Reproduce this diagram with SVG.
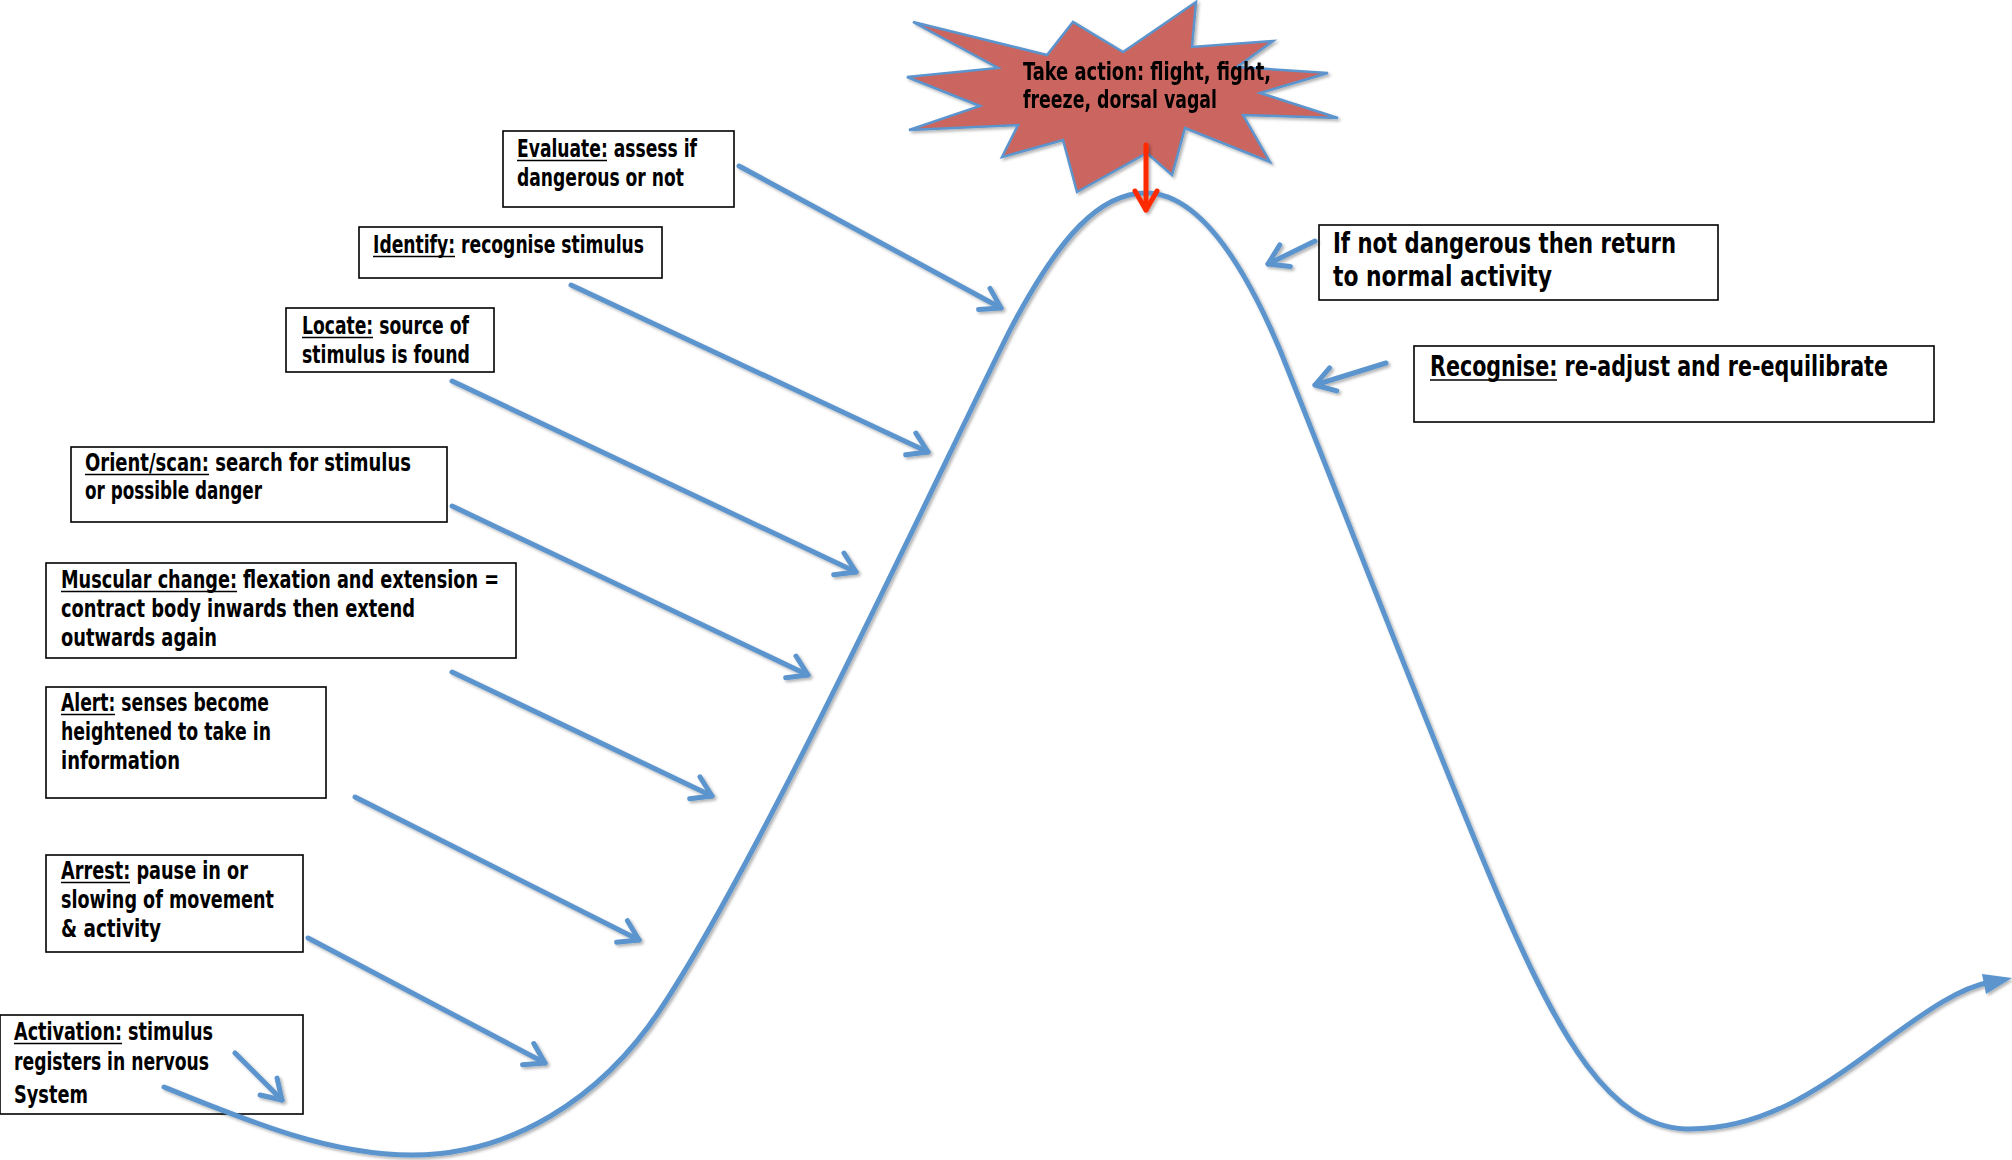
<svg xmlns="http://www.w3.org/2000/svg" width="2012" height="1160" viewBox="0 0 2012 1160">
<style>
.box{fill:#fff;stroke:#000;stroke-width:1.6}
.t{font-family:"Liberation Sans Narrow","DejaVu Sans Condensed","Liberation Sans",sans-serif;font-weight:bold;font-size:24px;fill:#000}
.tl{font-size:29px}
.ul{stroke:#000;stroke-width:1.6}
.conn{fill:none;stroke:#5B94CD;stroke-width:5;stroke-linecap:round}
</style>
<defs>
<filter id="sh" x="-10%" y="-10%" width="130%" height="130%">
<feDropShadow dx="2" dy="2" stdDeviation="1.5" flood-color="#000" flood-opacity="0.3"/>
</filter>
<marker id="ah" viewBox="-24 -16 30 32" refX="0" refY="0" markerWidth="30" markerHeight="32" markerUnits="userSpaceOnUse" orient="auto" overflow="visible">
<path d="M-19,-12 L0,0 L-19,12" fill="none" stroke="#5B94CD" stroke-width="5" stroke-linecap="round" stroke-linejoin="round"/>
</marker>
<marker id="ahr" viewBox="-24 -16 30 32" refX="0" refY="0" markerWidth="30" markerHeight="32" markerUnits="userSpaceOnUse" orient="auto" overflow="visible">
<path d="M-19,-11 L0,0 L-19,11" fill="none" stroke="#FF2A00" stroke-width="5" stroke-linecap="round" stroke-linejoin="round"/>
</marker>
</defs>
<rect width="2012" height="1160" fill="#fff"/>

<g id="action" filter="url(#sh)">
<polygon points="913,22 1047,55 1073,22 1123,52 1196,2 1192,47 1273,41 1237,67 1328,73 1260,93 1338,118 1243,115 1270,162 1185,128 1172,175 1147,153 1077,192 1063,140 1002,157 1018,125 909,130 980,106 907,77 998,68" fill="#CB655E" stroke="#5B94CD" stroke-width="2.5" stroke-linejoin="miter"/>
<text class="t" x="1023" y="80" textLength="248" lengthAdjust="spacingAndGlyphs">Take action: flight, fight,</text>
<text class="t" x="1023" y="108" textLength="194" lengthAdjust="spacingAndGlyphs">freeze, dorsal vagal</text>
</g>

<g id="evaluate">
<rect class="box" x="503" y="131" width="231" height="76"/>
<text class="t" x="517" y="157" textLength="180" lengthAdjust="spacingAndGlyphs">Evaluate: assess if</text>
<line class="ul" x1="517" y1="160.5" x2="607" y2="160.5"/>
<text class="t" x="517" y="186" textLength="167" lengthAdjust="spacingAndGlyphs">dangerous or not</text>
</g>

<g id="identify">
<rect class="box" x="359" y="227" width="303" height="51"/>
<text class="t" x="373" y="253" textLength="271" lengthAdjust="spacingAndGlyphs">Identify: recognise stimulus</text>
<line class="ul" x1="373" y1="256.5" x2="455" y2="256.5"/>
</g>

<g id="locate">
<rect class="box" x="286" y="308" width="208" height="64"/>
<text class="t" x="302" y="334" textLength="167" lengthAdjust="spacingAndGlyphs">Locate: source of</text>
<line class="ul" x1="302" y1="337.5" x2="373" y2="337.5"/>
<text class="t" x="302" y="363" textLength="168" lengthAdjust="spacingAndGlyphs">stimulus is found</text>
</g>

<g id="orient">
<rect class="box" x="71" y="447" width="376" height="75"/>
<text class="t" x="85" y="471" textLength="326" lengthAdjust="spacingAndGlyphs">Orient/scan: search for stimulus</text>
<line class="ul" x1="85" y1="474.5" x2="209" y2="474.5"/>
<text class="t" x="85" y="499" textLength="177" lengthAdjust="spacingAndGlyphs">or possible danger</text>
</g>

<g id="muscular">
<rect class="box" x="46" y="563" width="470" height="95"/>
<text class="t" x="61" y="588" textLength="438" lengthAdjust="spacingAndGlyphs">Muscular change: flexation and extension =</text>
<line class="ul" x1="61" y1="591.5" x2="237" y2="591.5"/>
<text class="t" x="61" y="617" textLength="354" lengthAdjust="spacingAndGlyphs">contract body inwards then extend</text>
<text class="t" x="61" y="646" textLength="156" lengthAdjust="spacingAndGlyphs">outwards again</text>
</g>

<g id="alert">
<rect class="box" x="46" y="687" width="280" height="111"/>
<text class="t" x="61" y="711" textLength="208" lengthAdjust="spacingAndGlyphs">Alert: senses become</text>
<line class="ul" x1="61" y1="714.5" x2="115" y2="714.5"/>
<text class="t" x="61" y="740" textLength="210" lengthAdjust="spacingAndGlyphs">heightened to take in</text>
<text class="t" x="61" y="769" textLength="119" lengthAdjust="spacingAndGlyphs">information</text>
</g>

<g id="arrest">
<rect class="box" x="46" y="855" width="257" height="97"/>
<text class="t" x="61" y="879" textLength="187" lengthAdjust="spacingAndGlyphs">Arrest: pause in or</text>
<line class="ul" x1="61" y1="882.5" x2="130" y2="882.5"/>
<text class="t" x="61" y="908" textLength="213" lengthAdjust="spacingAndGlyphs">slowing of movement</text>
<text class="t" x="61" y="937" textLength="100" lengthAdjust="spacingAndGlyphs">&amp; activity</text>
</g>

<g id="activation">
<rect class="box" x="0" y="1015" width="303" height="99"/>
<text class="t" x="14" y="1040" textLength="199" lengthAdjust="spacingAndGlyphs">Activation: stimulus</text>
<line class="ul" x1="14" y1="1043.5" x2="122" y2="1043.5"/>
<text class="t" x="14" y="1070" textLength="195" lengthAdjust="spacingAndGlyphs">registers in nervous</text>
<text class="t" x="14" y="1103" textLength="74" lengthAdjust="spacingAndGlyphs">System</text>
</g>

<g id="ifnot">
<rect class="box" x="1319" y="225" width="399" height="75"/>
<text class="t tl" x="1333" y="253" textLength="343" lengthAdjust="spacingAndGlyphs">If not dangerous then return</text>
<text class="t tl" x="1333" y="286" textLength="219" lengthAdjust="spacingAndGlyphs">to normal activity</text>
</g>

<g id="recognise">
<rect class="box" x="1414" y="346" width="520" height="76"/>
<text class="t tl" x="1430" y="376" textLength="458" lengthAdjust="spacingAndGlyphs">Recognise: re-adjust and re-equilibrate</text>
<line class="ul" x1="1430" y1="380" x2="1557" y2="380"/>
</g>

<g id="connectors" filter="url(#sh)">
<path id="curve" class="conn" d="M164,1087 C250,1122 330,1155 412,1155 C510,1155 600,1100 660,1010 C760,860 940,470 1010,330 C1060,235 1100,193 1146,193 C1195,193 1240,255 1280,350 C1340,500 1440,760 1500,900 C1560,1040 1610,1125 1685,1129 C1760,1131 1820,1090 1880,1045 C1930,1008 1960,988 1990,982"/>
<polygon points="2012,978 1982,974 1986,994" fill="#5B94CD"/>
<line class="conn" x1="235" y1="1053" x2="282" y2="1100" marker-end="url(#ah)"/>
<line class="conn" x1="308" y1="938" x2="545" y2="1063" marker-end="url(#ah)"/>
<line class="conn" x1="355" y1="797" x2="639" y2="940" marker-end="url(#ah)"/>
<line class="conn" x1="452" y1="672" x2="712" y2="796" marker-end="url(#ah)"/>
<line class="conn" x1="452" y1="506" x2="808" y2="675" marker-end="url(#ah)"/>
<line class="conn" x1="452" y1="381" x2="856" y2="572" marker-end="url(#ah)"/>
<line class="conn" x1="571" y1="285" x2="928" y2="452" marker-end="url(#ah)"/>
<line class="conn" x1="739" y1="166" x2="1001" y2="308" marker-end="url(#ah)"/>
<line class="conn" x1="1315" y1="241" x2="1268" y2="264" marker-end="url(#ah)"/>
<line class="conn" x1="1386" y1="363" x2="1315" y2="385" marker-end="url(#ah)"/>
<line x1="1146" y1="145" x2="1146" y2="210" stroke="#FF2A00" stroke-width="5" stroke-linecap="round" marker-end="url(#ahr)"/>
</g>
</svg>
